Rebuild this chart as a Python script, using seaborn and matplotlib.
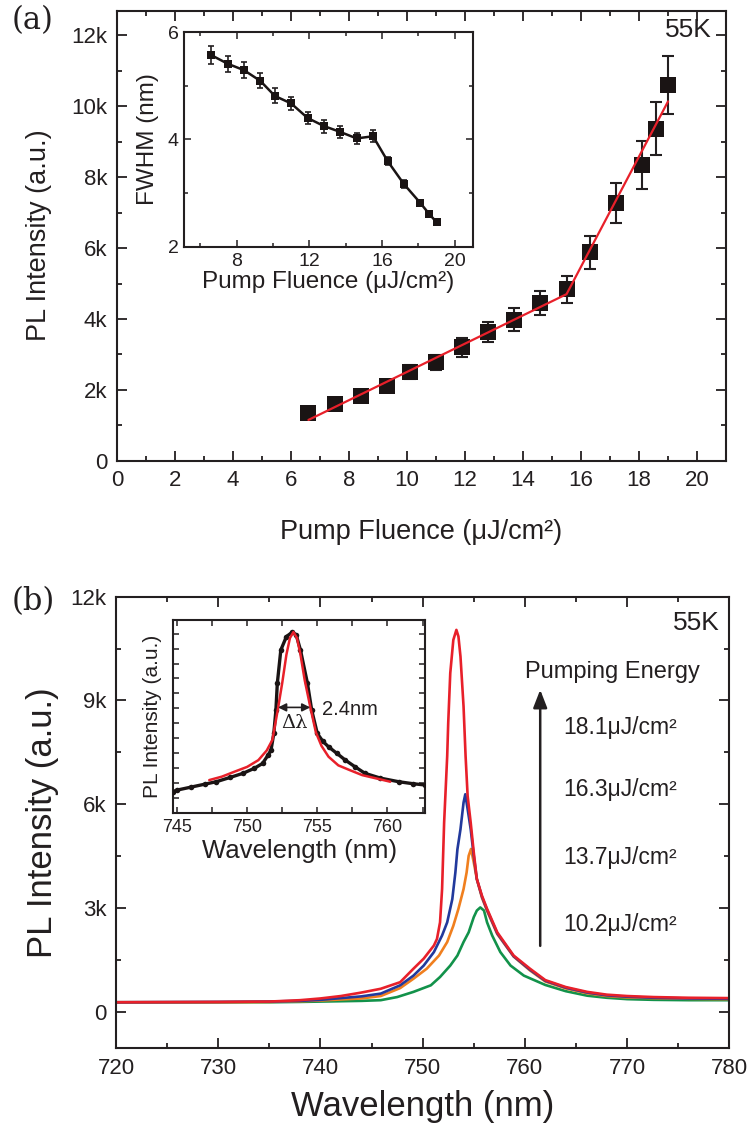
import matplotlib
matplotlib.use("Agg")
import matplotlib.pyplot as plt
import seaborn as sns
from matplotlib.ticker import MultipleLocator, FuncFormatter, NullFormatter

# ---------------- data ----------------
# (a) integrated PL intensity vs pump fluence
fluence = [6.6, 7.5, 8.4, 9.3, 10.1, 11.0, 11.9, 12.8, 13.7, 14.6, 15.5, 16.3, 17.2, 18.1, 18.6, 19.0]
pl_intensity = [1360, 1590, 1830, 2120, 2500, 2780, 3200, 3630, 3980, 4450, 4840, 5880, 7270, 8340, 9370, 10600]
pl_error = [100, 120, 140, 160, 190, 210, 260, 290, 330, 350, 380, 470, 570, 670, 750, 820]
fit_fluence = [6.6, 15.5, 19.0]
fit_intensity = [1150, 4700, 10140]

# (a) inset: linewidth vs pump fluence
fwhm_nm = [5.57, 5.41, 5.29, 5.09, 4.81, 4.67, 4.40, 4.25, 4.14, 4.02, 4.06, 3.60, 3.17, 2.82, 2.61, 2.46]
fwhm_error = [0.17, 0.15, 0.15, 0.14, 0.14, 0.12, 0.12, 0.12, 0.11, 0.11, 0.11, 0.08, 0.07, 0.06, 0.04, 0.03]

# (b) emission spectra at four pump fluences
wl_181 = [720, 730, 735, 738, 740, 742, 744, 745.9, 747.8, 749.1, 750.1, 751.1, 751.4, 751.7, 751.9,
          752.1, 752.4, 752.5, 752.7, 753.0, 753.3, 753.5, 753.7, 754.0, 754.2, 754.4, 754.7, 755.0,
          755.3, 755.8, 756.3, 757.3, 758.9, 760.5, 762, 764, 766.1, 768, 770, 772.6, 776, 780]
pl_181 = [280, 290, 300, 340, 390, 460, 560, 670, 860, 1250, 1540, 1920, 2110, 2590, 3550,
          5470, 7390, 8350, 9790, 10750, 11040, 10850, 10270, 8830, 7390, 6240, 5470, 4610,
          3840, 3360, 2980, 2300, 1630, 1250, 920, 720, 580, 500, 460, 430, 410, 400]

wl_163 = [720, 730, 735, 738, 740, 742, 744, 745.9, 747.8, 749.1, 750.1, 751.1, 751.9, 752.4, 752.9,
          753.2, 753.4, 753.7, 754.0, 754.17, 754.4, 754.7, 755.0, 755.3, 755.8, 756.3, 757.3, 758.9,
          760.5, 762, 764, 766.1, 768, 770, 772.6, 776, 780]
pl_163 = [280, 290, 300, 320, 350, 400, 450, 530, 770, 1050, 1340, 1730, 2210, 2590, 3260,
          4030, 4700, 5280, 6050, 6290, 5860, 5280, 4510, 3840, 3330, 2950, 2270, 1610,
          1220, 900, 700, 560, 480, 440, 410, 390, 380]

wl_137 = [720, 730, 735, 738, 740, 742, 744, 745.9, 747.8, 749.1, 750.4, 751.6, 752.4, 753.0, 753.5,
          754.0, 754.3, 754.5, 754.73, 755.0, 755.3, 755.8, 756.3, 757.3, 758.9, 760.5, 762, 764,
          766.1, 768, 770, 772.6, 776, 780]
pl_137 = [280, 280, 290, 310, 330, 360, 390, 460, 690, 960, 1250, 1630, 2020, 2490, 2980,
          3550, 4030, 4510, 4710, 4320, 3840, 3300, 2920, 2250, 1600, 1200, 880, 680,
          540, 460, 420, 400, 380, 370]

wl_102 = [720, 730, 735, 738, 740, 742, 744, 745.9, 747.5, 749.1, 750.8, 751.7, 752.7, 753.4, 754.0,
          754.5, 755.0, 755.3, 755.64, 756.0, 756.3, 756.8, 757.6, 758.6, 759.9, 762, 764, 766.1,
          768, 770, 772.6, 776, 780]
pl_102 = [280, 280, 280, 290, 300, 310, 320, 340, 430, 580, 770, 1010, 1340, 1630, 2020,
          2300, 2740, 2930, 3020, 2930, 2590, 2210, 1730, 1340, 1050, 780, 600, 470,
          410, 370, 350, 340, 340]

spectra_labels = ["18.1\u03bcJ/cm\u00b2", "16.3\u03bcJ/cm\u00b2", "13.7\u03bcJ/cm\u00b2", "10.2\u03bcJ/cm\u00b2"]
spectra_colors = ["#e8202a", "#22399c", "#f07f1e", "#12924a"]

# (b) inset: highest-fluence spectrum (dots) and Lorentzian fit (line)
inset_wl = [744.7, 745.0, 746.0, 747.0, 747.8, 748.8, 749.7, 750.5, 751.1, 751.5, 751.7, 751.9, 752.05,
            752.15, 752.4, 752.8, 753.23, 753.5, 753.8, 754.3, 754.6, 755.0, 755.4, 755.8, 756.4, 757.0,
            757.7, 758.4, 759.5, 760.8, 761.8, 762.7]
inset_pl = [1.45, 1.55, 1.75, 1.95, 2.11, 2.40, 2.67, 3.00, 3.33, 3.90, 4.22, 5.33, 6.89,
            8.67, 10.90, 11.80, 12.10, 11.90, 10.90, 8.67, 6.89, 5.33, 4.80, 4.44, 4.00, 3.55,
            3.10, 2.67, 2.35, 2.11, 1.98, 1.89]
inset_fit_wl = [747.3, 748.2, 749.1, 750.0, 750.8, 751.4, 751.8, 752.2, 752.5, 752.8, 753.05, 753.3,
                753.55, 753.8, 754.1, 754.5, 754.9, 755.3, 755.8, 756.5, 757.3, 758.2, 759.2, 760.2]
inset_fit_pl = [2.22, 2.45, 2.78, 3.10, 3.55, 4.20, 4.90, 7.00, 8.70, 10.60, 11.70, 12.10,
                11.70, 10.60, 8.90, 7.10, 5.40, 4.50, 3.78, 3.20, 2.89, 2.55, 2.33, 2.11]
fwhm_marker_wl = [752.2, 754.5]
fwhm_marker_level = 7.07

# ---------------- style ----------------
sns.set_theme(style="ticks")
plt.rcParams["font.family"] = ["Liberation Sans", "DejaVu Sans"]
plt.rcParams["text.color"] = "#231f20"
plt.rcParams["axes.labelcolor"] = "#231f20"
plt.rcParams["xtick.color"] = "#231f20"
plt.rcParams["ytick.color"] = "#231f20"
plt.rcParams["axes.edgecolor"] = "#231f20"

INK = "#231f20"
DOT = "#1a1414"


def style_axes(ax, label_size, major_len=7, minor_len=3.8, width=1.3, spine=1.5):
    for s in ax.spines.values():
        s.set_visible(True)
        s.set_linewidth(spine)
        s.set_color(INK)
    ax.tick_params(which="both", direction="in", top=True, right=True, width=width,
                   labelsize=label_size, color=INK)
    ax.tick_params(which="major", length=major_len, pad=7)
    ax.tick_params(which="minor", length=minor_len)


def k_format(v, _pos):
    if abs(v) < 1e-9:
        return "0"
    return f"{v / 1000:g}k"


fig = plt.figure(figsize=(7.51, 11.35), dpi=100)

# ---------------- panel (a) ----------------
ax_a = fig.add_axes([0.1558, 0.5941, 0.8110, 0.3965])
ax_a.errorbar(fluence, pl_intensity, yerr=pl_error, fmt="none", ecolor=INK,
              elinewidth=1.5, capsize=4.5, capthick=1.5, zorder=2)
sns.scatterplot(x=fluence, y=pl_intensity, marker="s", s=125, color=DOT,
                edgecolor=DOT, linewidth=0, ax=ax_a, zorder=3, legend=False)
sns.lineplot(x=fit_fluence, y=fit_intensity, color="#e8202a", linewidth=1.6,
             ax=ax_a, zorder=4, legend=False)
ax_a.set_xlim(0, 21)
ax_a.set_ylim(0, 12700)
ax_a.xaxis.set_major_locator(MultipleLocator(2))
ax_a.xaxis.set_minor_locator(MultipleLocator(1))
ax_a.yaxis.set_major_locator(MultipleLocator(2000))
ax_a.yaxis.set_minor_locator(MultipleLocator(1000))
ax_a.yaxis.set_major_formatter(FuncFormatter(k_format))
style_axes(ax_a, 16)
ax_a.set_xlabel("Pump Fluence (\u03bcJ/cm\u00b2)", fontsize=19.5, labelpad=20)
ax_a.set_ylabel("PL Intensity (a.u.)", fontsize=19.5, labelpad=14)
ax_a.text(20.5, 12150, "55K", fontsize=19, ha="right", va="center")

# inset of (a)
ax_ai = fig.add_axes([0.2450, 0.7824, 0.3848, 0.1894])
ax_ai.errorbar(fluence, fwhm_nm, yerr=fwhm_error, fmt="none", ecolor=INK,
               elinewidth=1.2, capsize=2.5, capthick=1.2, zorder=2)
sns.lineplot(x=fluence, y=fwhm_nm, color=DOT, linewidth=1.8, ax=ax_ai, zorder=3, legend=False)
sns.scatterplot(x=fluence, y=fwhm_nm, marker="s", s=38, color=DOT, edgecolor=DOT,
                linewidth=0, ax=ax_ai, zorder=4, legend=False)
ax_ai.set_xlim(5.1, 21)
ax_ai.set_ylim(2, 6)
ax_ai.xaxis.set_major_locator(MultipleLocator(4))
ax_ai.xaxis.set_minor_locator(MultipleLocator(2))
ax_ai.yaxis.set_major_locator(MultipleLocator(2))
ax_ai.yaxis.set_minor_locator(MultipleLocator(1))
style_axes(ax_ai, 14, major_len=5, minor_len=3, width=1.1, spine=1.5)
ax_ai.tick_params(which="major", pad=4)
ax_ai.set_xlabel("Pump Fluence (\u03bcJ/cm\u00b2)", fontsize=17.5, labelpad=1)
ax_ai.set_ylabel("FWHM (nm)", fontsize=17.5, labelpad=6)

fig.text(0.016, 0.982, "(a)", fontsize=22, family="DejaVu Serif", va="center", ha="left")

# ---------------- panel (b) ----------------
ax_b = fig.add_axes([0.1545, 0.0764, 0.8166, 0.3979])
for wl, pl, col in zip([wl_102, wl_137, wl_163, wl_181], [pl_102, pl_137, pl_163, pl_181],
                       spectra_colors[::-1]):
    sns.lineplot(x=wl, y=pl, color=col, linewidth=1.9, ax=ax_b, legend=False)
ax_b.set_xlim(720, 780)
ax_b.set_ylim(-1050, 12000)
ax_b.xaxis.set_major_locator(MultipleLocator(10))
ax_b.xaxis.set_minor_locator(MultipleLocator(5))
ax_b.yaxis.set_major_locator(MultipleLocator(3000))
ax_b.yaxis.set_minor_locator(MultipleLocator(1500))
ax_b.yaxis.set_major_formatter(FuncFormatter(k_format))
style_axes(ax_b, 16)
ax_b.set_xlabel("Wavelength (nm)", fontsize=25, labelpad=8)
ax_b.set_ylabel("PL Intensity (a.u.)", fontsize=25, labelpad=8)
ax_b.text(779.1, 11230, "55K", fontsize=19, ha="right", va="center")
ax_b.text(760.0, 9830, "Pumping Energy", fontsize=17, ha="left", va="center")
ax_b.annotate("", xy=(761.5, 9310), xytext=(761.5, 1910),
              arrowprops=dict(arrowstyle="-|>,head_length=0.9,head_width=0.35",
                              color=INK, lw=1.8, shrinkA=0, shrinkB=0))
for lab, yv in zip(spectra_labels, [8220, 6430, 4470, 2540]):
    ax_b.text(763.75, yv, lab, fontsize=16.5, ha="left", va="center")

# inset of (b)
ax_bi = fig.add_axes([0.2308, 0.2834, 0.3352, 0.1703])
sns.lineplot(x=inset_wl, y=inset_pl, color=DOT, linewidth=2.4, ax=ax_bi, legend=False, zorder=2)
sns.scatterplot(x=inset_wl, y=inset_pl, s=16, color=DOT, edgecolor=DOT, linewidth=0,
                ax=ax_bi, legend=False, zorder=3)
sns.lineplot(x=inset_fit_wl, y=inset_fit_pl, color="#e8202a", linewidth=1.8, ax=ax_bi,
             legend=False, zorder=4)
ax_bi.annotate("", xy=(fwhm_marker_wl[0], fwhm_marker_level),
               xytext=(fwhm_marker_wl[1], fwhm_marker_level),
               arrowprops=dict(arrowstyle="<|-|>,head_length=0.4,head_width=0.2",
                               color=INK, lw=1.2, shrinkA=0, shrinkB=0), zorder=5)
ax_bi.text(753.35, 6.0, "\u0394\u03bb", fontsize=14, family="DejaVu Serif", ha="center", va="center")
ax_bi.text(755.3, 6.95, "2.4nm", fontsize=14.5, ha="left", va="center")
ax_bi.set_xlim(744.74, 762.68)
ax_bi.set_ylim(0, 12.9)
ax_bi.xaxis.set_major_locator(MultipleLocator(5))
ax_bi.xaxis.set_minor_locator(MultipleLocator(2.5))
ax_bi.yaxis.set_major_locator(MultipleLocator(1))
ax_bi.yaxis.set_major_formatter(NullFormatter())
style_axes(ax_bi, 13, major_len=4, minor_len=4, width=1.1, spine=1.5)
ax_bi.tick_params(which="major", pad=4)
ax_bi.set_xlabel("Wavelength (nm)", fontsize=18.5, labelpad=2)
ax_bi.set_ylabel("PL Intensity (a.u.)", fontsize=15, labelpad=4)

fig.text(0.016, 0.470, "(b)", fontsize=22, family="DejaVu Serif", va="center", ha="left")

fig.savefig("out.png", dpi=100)
